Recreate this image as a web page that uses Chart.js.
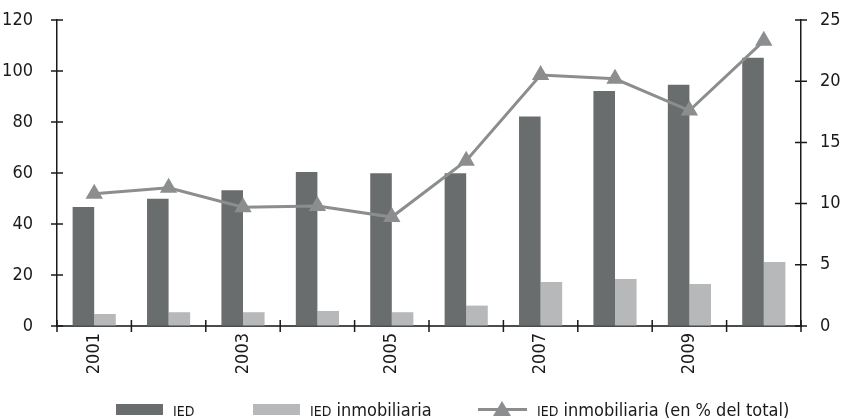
<!DOCTYPE html>
<html>
<head>
<meta charset="utf-8">
<script src="https://cdn.jsdelivr.net/npm/chart.js@4"></script>
<style>
  html, body { margin: 0; padding: 0; background: #fff; }
  #wrap { position: relative; width: 844px; height: 419px; }
  #legend { position: absolute; left: 0; top: 0; width: 844px; height: 419px; pointer-events: none;
            font-family: "Liberation Sans Narrow", "DejaVu Sans Condensed", sans-serif; color: #1a1a1a; }
  .item { position: absolute; top: 398px; height: 22px; display: flex; align-items: center; white-space: nowrap; }
  .box { width: 47px; height: 11px; margin-right: 10px; }
  .mark { position: relative; width: 49px; height: 16px; margin-right: 10px; }
  .mark .ln { position: absolute; left: 0; right: 0; top: 7px; height: 3px; }
  .mark .tri { position: absolute; left: 15px; top: 0; width: 0; height: 0;
               border-left: 9px solid transparent; border-right: 9px solid transparent; border-bottom: 15px solid; }
  .txt { font-size: 18px; }
  .sc { font-size: 14px; }
</style>
</head>
<body>
<div id="wrap">
  <canvas id="chart" width="844" height="419"></canvas>
  <div id="legend"></div>
</div>
<script>
const years = ['2001', '2002', '2003', '2004', '2005', '2006', '2007', '2008', '2009', '2010'];
const ied = [46.7, 49.9, 53.2, 60.4, 59.9, 59.9, 82.2, 92.2, 94.6, 105.2];
const iedInmob = [4.7, 5.4, 5.4, 5.9, 5.4, 8.0, 17.3, 18.4, 16.5, 25.1];
const iedInmobPct = [10.8, 11.3, 9.7, 9.8, 8.9, 13.5, 20.5, 20.2, 17.6, 23.3];

const labels = ['IED', 'IED inmobiliaria', 'IED inmobiliaria (en % del total)'];
const darkGrey = '#6a6d6e';
const lightGrey = '#b7b8b9';
const lineGrey = '#8b8d8e';
const axisColor = '#1a1a1a';
const fontFamily = '"Liberation Sans Narrow", "DejaVu Sans Condensed", sans-serif';

// small tick marks that cross the axis lines on both sides
const crossTicks = {
    id: 'crossTicks',
    afterDatasetsDraw(chart) {
        const ctx = chart.ctx;
        const { x, y, y1 } = chart.scales;
        const half = 6;
        ctx.save();
        ctx.strokeStyle = axisColor;
        ctx.lineWidth = 1.5;
        ctx.beginPath();
        y.ticks.forEach((t, i) => {
            const py = y.getPixelForTick(i);
            ctx.moveTo(x.left - half, py);
            ctx.lineTo(x.left + half, py);
        });
        y1.ticks.forEach((t, i) => {
            const py = y1.getPixelForTick(i);
            ctx.moveTo(x.right - half, py);
            ctx.lineTo(x.right + half, py);
        });
        const step = x.width / years.length;
        for (let i = 0; i <= years.length; i++) {
            const px = x.left + i * step;
            ctx.moveTo(px, x.top - half);
            ctx.lineTo(px, x.top + half);
        }
        ctx.stroke();
        ctx.restore();
    }
};

// fixed width for the value axes, no extra vertical room for the labels
function fitValueAxis(width) {
    return s => {
        s.width = width;
        s.paddingTop = 0;
        s.paddingBottom = 0;
    };
}

const chart = new Chart(document.getElementById('chart'), {
    type: 'bar',
    data: {
        labels: years,
        datasets: [
            {
                type: 'line',
                label: labels[2],
                data: iedInmobPct,
                yAxisID: 'y1',
                borderColor: lineGrey,
                backgroundColor: lineGrey,
                borderWidth: 3,
                pointStyle: 'triangle',
                pointRadius: 10,
                pointBorderWidth: 0,
                tension: 0,
                order: 0
            },
            {
                label: labels[0],
                data: ied,
                yAxisID: 'y',
                backgroundColor: darkGrey,
                categoryPercentage: 0.58,
                barPercentage: 1,
                order: 1
            },
            {
                label: labels[1],
                data: iedInmob,
                yAxisID: 'y',
                backgroundColor: lightGrey,
                categoryPercentage: 0.58,
                barPercentage: 1,
                order: 1
            }
        ]
    },
    options: {
        responsive: false,
        animation: false,
        layout: { padding: { top: 20, left: 0, right: 0, bottom: 0 } },
        plugins: {
            legend: { display: false },
            tooltip: { enabled: false }
        },
        scales: {
            x: {
                grid: { display: true, drawOnChartArea: false, drawTicks: false, offset: true },
                border: { color: '#4a4c4d', width: 2 },
                ticks: {
                    autoSkip: false,
                    minRotation: 90,
                    maxRotation: 90,
                    padding: 7,
                    color: axisColor,
                    font: { family: fontFamily, size: 18 },
                    callback: (v, i) => (i % 2 === 0 ? years[i] : '')
                },
                afterFit: s => { s.height = 93; }
            },
            y: {
                position: 'left',
                min: 0,
                max: 120,
                grid: { drawOnChartArea: false, drawTicks: false },
                border: { color: axisColor, width: 1.5 },
                ticks: {
                    stepSize: 20,
                    padding: 24,
                    color: axisColor,
                    font: { family: fontFamily, size: 18 }
                },
                afterFit: fitValueAxis(57)
            },
            y1: {
                position: 'right',
                min: 0,
                max: 25,
                grid: { drawOnChartArea: false, drawTicks: false },
                border: { color: axisColor, width: 1.5 },
                ticks: {
                    stepSize: 5,
                    padding: 19,
                    color: axisColor,
                    font: { family: fontFamily, size: 18 }
                },
                afterFit: fitValueAxis(43)
            }
        }
    },
    plugins: [crossTicks]
});

// legend row under the axis, built from the dataset labels
function labelHtml(text) {
    const rest = text.replace(/^IED/, '');
    return '<span class="txt"><span class="sc">IED</span>' + rest + '</span>';
}

const legendBox = document.getElementById('legend');
const legendItems = [
    { left: 116, html: '<div class="box" style="background:' + darkGrey + '"></div>', text: labels[0] },
    { left: 253, html: '<div class="box" style="background:' + lightGrey + '"></div>', text: labels[1] },
    { left: 478, html: '<div class="mark"><div class="ln" style="background:' + lineGrey + '"></div><div class="tri" style="border-bottom-color:' + lineGrey + '"></div></div>', text: labels[2] }
];
legendItems.forEach(it => {
    const div = document.createElement('div');
    div.className = 'item';
    div.style.left = it.left + 'px';
    div.innerHTML = it.html + labelHtml(it.text);
    legendBox.appendChild(div);
});
</script>
</body>
</html>
